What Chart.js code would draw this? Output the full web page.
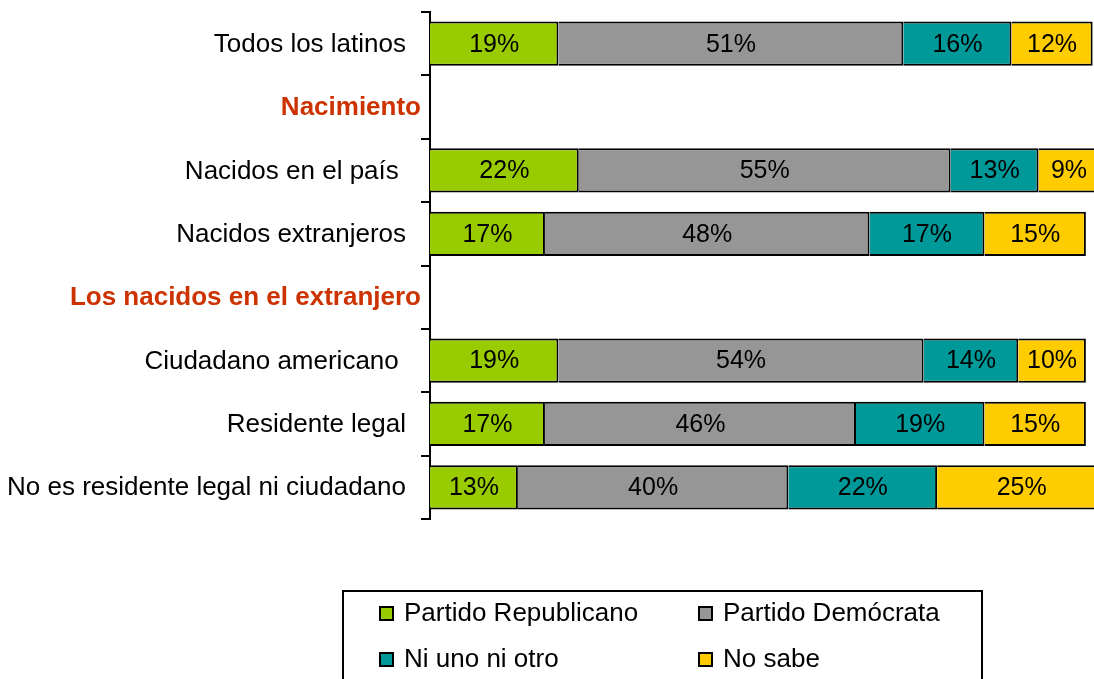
<!DOCTYPE html>
<html>
<head>
<meta charset="utf-8">
<script src="https://cdn.jsdelivr.net/npm/chart.js@4.4.1/dist/chart.umd.min.js"></script>
<style>
  html, body { margin: 0; padding: 0; background: #fff; }
  #wrap { position: relative; width: 1094px; height: 679px; }
</style>
</head>
<body>
<div id="wrap"><canvas id="chart"></canvas></div>
<script>
// Categories (two of them are section headers with no bar)
const categories = [
    'Todos los latinos',
    'Nacimiento',
    'Nacidos en el país ',
    'Nacidos extranjeros',
    'Los nacidos en el extranjero',
    'Ciudadano americano ',
    'Residente legal',
    'No es residente legal ni ciudadano'
];
const headers = ['Nacimiento', 'Los nacidos en el extranjero'];

// Series values (%)
const republicano = [19, null, 22, 17, null, 19, 17, 13];
const democrata   = [51, null, 55, 48, null, 54, 46, 40];
const ninguno     = [16, null, 13, 17, null, 14, 19, 22];
const noSabe      = [12, null,  9, 15, null, 10, 15, 25];

const seriesNames = ['Partido Republicano', 'Partido Demócrata', 'Ni uno ni otro', 'No sabe'];
const seriesColors = ['#99cc00', '#969696', '#009999', '#ffcc00'];

const FONT = "'Liberation Sans', Arial, sans-serif";

// Category labels drawn at the left of the axis
const yLabels = {
    id: 'yLabels',
    afterDraw(chart) {
        const { ctx, chartArea, scales: { y } } = chart;
        ctx.save();
        ctx.textAlign = 'right';
        ctx.textBaseline = 'middle';
        categories.forEach((label, i) => {
            const isHeader = headers.includes(label);
            ctx.font = (isHeader ? 'bold ' : '') + '26px ' + FONT;
            ctx.fillStyle = isHeader ? '#cc3300' : '#000';
            const x = chartArea.left - (isHeader ? 9 : 24);
            ctx.fillText(label, x, y.getPixelForValue(i) + 1);
        });
        ctx.restore();
    }
};

// Percent labels centred in each segment
const valueLabels = {
    id: 'valueLabels',
    afterDatasetsDraw(chart) {
        const { ctx } = chart;
        ctx.save();
        ctx.font = '25px ' + FONT;
        ctx.fillStyle = '#000';
        ctx.textAlign = 'center';
        ctx.textBaseline = 'middle';
        chart.data.datasets.forEach((ds, di) => {
            chart.getDatasetMeta(di).data.forEach((bar, i) => {
                const v = ds.data[i];
                if (v == null) return;
                ctx.fillText(v + '%', (bar.x + bar.base) / 2, bar.y + 1);
            });
        });
        ctx.restore();
    }
};

// Boxed 2x2 legend under the chart
const boxLegend = {
    id: 'boxLegend',
    afterDraw(chart) {
        const { ctx } = chart;
        ctx.save();
        ctx.strokeStyle = '#000';
        ctx.lineWidth = 2;
        ctx.strokeRect(343, 591, 639, 120);
        const cols = [380, 699];
        const rows = [607, 653];
        ctx.font = '26px ' + FONT;
        ctx.textAlign = 'left';
        ctx.textBaseline = 'middle';
        chart.data.datasets.forEach((ds, i) => {
            const x = cols[i % 2];
            const y = rows[Math.floor(i / 2)];
            ctx.fillStyle = ds.backgroundColor;
            ctx.fillRect(x, y, 13, 13);
            ctx.lineWidth = 2;
            ctx.strokeRect(x, y, 13, 13);
            ctx.fillStyle = '#000';
            ctx.fillText(ds.label, x + 24, y + 7);
        });
        ctx.restore();
    }
};

const seriesData = [republicano, democrata, ninguno, noSabe];

new Chart(document.getElementById('chart'), {
    type: 'bar',
    data: {
        labels: categories,
        datasets: seriesData.map((d, i) => ({
            label: seriesNames[i],
            data: d,
            backgroundColor: seriesColors[i],
            borderColor: '#000',
            borderWidth: 2,
            categoryPercentage: 0.7,
            barPercentage: 1
        }))
    },
    options: {
        indexAxis: 'y',
        responsive: true,
        maintainAspectRatio: false,
        animation: false,
        layout: { padding: { top: 12, bottom: 160, left: 0, right: 0 } },
        plugins: {
            legend: { display: false },
            tooltip: { enabled: false }
        },
        scales: {
            x: {
                stacked: true,
                min: 0,
                max: 98.2,
                display: false
            },
            y: {
                stacked: true,
                afterFit(scale) { scale.width = 430; },
                ticks: { display: false },
                grid: {
                    display: true,
                    drawOnChartArea: false,
                    drawTicks: true,
                    offset: true,
                    tickLength: 9,
                    color: '#000',
                    lineWidth: 2
                },
                border: { display: true, color: '#000', width: 2 }
            }
        }
    },
    plugins: [yLabels, valueLabels, boxLegend]
});
</script>
</body>
</html>
